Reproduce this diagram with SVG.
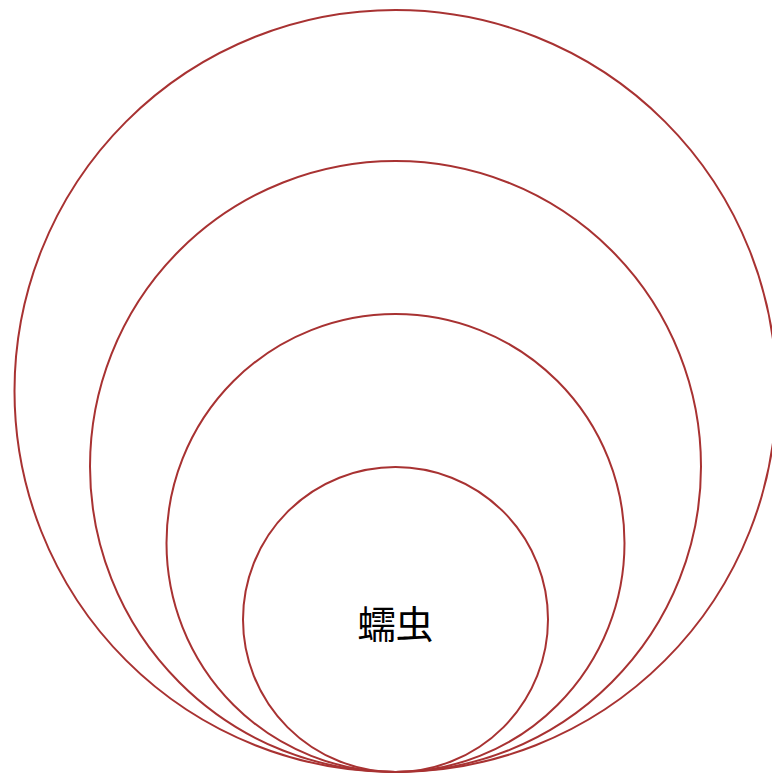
<svg xmlns="http://www.w3.org/2000/svg" width="772" height="776" viewBox="0 0 772 776">
<style>
.ring{fill:none;stroke:#a83232;stroke-width:2}
.lbl{font-family:"Noto Sans CJK SC","Noto Sans CJK JP",sans-serif;font-size:38px;fill:#000;text-anchor:middle;dominant-baseline:central}
</style>
<rect width="772" height="776" fill="#fff"/>
<g id="layer1"><circle class="ring" cx="395.5" cy="391" r="381"/></g>
<g id="layer2"><circle class="ring" cx="395.5" cy="466.5" r="305.5"/></g>
<g id="layer3"><circle class="ring" cx="395.5" cy="543" r="229"/></g>
<g id="layer4"><circle class="ring" cx="395.5" cy="619.5" r="152.5"/><text class="lbl" x="395.5" y="621">蠕虫</text></g>
<g id="connectors"/>
</svg>
